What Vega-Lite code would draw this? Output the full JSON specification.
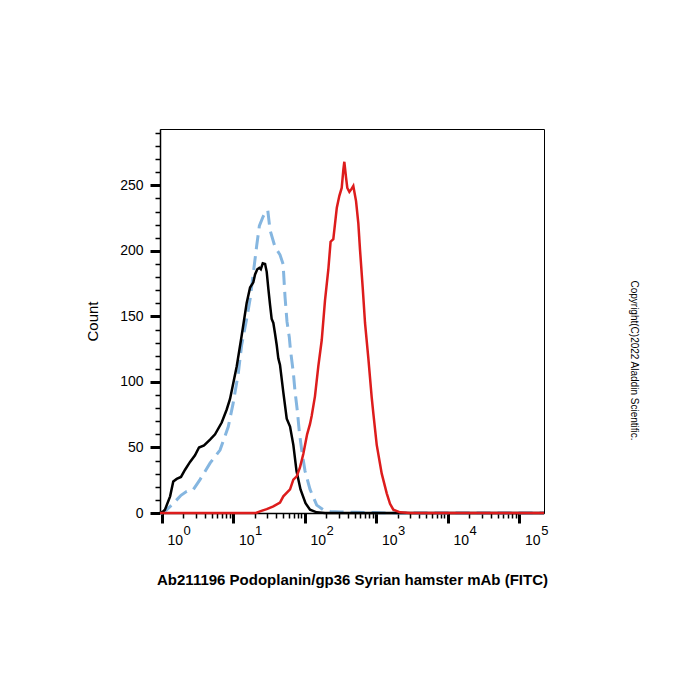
{
  "$schema": "https://vega.github.io/schema/vega-lite/v6.json",
  "width": 384,
  "height": 384,
  "autosize": {"type": "none"},
  "padding": {"left": 160, "top": 129, "right": 156, "bottom": 187},
  "background": "white",
  "config": {
    "view": {"stroke": "black", "strokeWidth": 1},
    "font": "Liberation Sans",
    "axis": {"labelFont": "Liberation Sans", "titleFont": "Liberation Sans", "labelColor": "black", "titleColor": "black", "domainColor": "black", "tickColor": "black", "grid": false}
  },
  "data": {"values": [
    {"s": "black", "x": 0.946, "y": 0}, {"s": "black", "x": 1.04, "y": 1}, {"s": "black", "x": 1.11, "y": 2.5}, {"s": "black", "x": 1.31, "y": 12.7}, {"s": "black", "x": 1.45, "y": 24}, {"s": "black", "x": 1.62, "y": 26}, {"s": "black", "x": 1.86, "y": 27.5}, {"s": "black", "x": 2.12, "y": 33}, {"s": "black", "x": 2.49, "y": 39}, {"s": "black", "x": 2.92, "y": 44}, {"s": "black", "x": 3.32, "y": 50}, {"s": "black", "x": 3.91, "y": 51.5}, {"s": "black", "x": 4.74, "y": 56}, {"s": "black", "x": 5.57, "y": 60}, {"s": "black", "x": 6.9, "y": 69}, {"s": "black", "x": 8.11, "y": 79}, {"s": "black", "x": 9.02, "y": 87}, {"s": "black", "x": 9.93, "y": 98}, {"s": "black", "x": 11.2, "y": 112}, {"s": "black", "x": 13.1, "y": 135}, {"s": "black", "x": 15.4, "y": 160}, {"s": "black", "x": 17.2, "y": 172}, {"s": "black", "x": 19.1, "y": 176}, {"s": "black", "x": 20.2, "y": 182}, {"s": "black", "x": 21.7, "y": 186}, {"s": "black", "x": 23.2, "y": 187}, {"s": "black", "x": 24.3, "y": 186}, {"s": "black", "x": 25.9, "y": 190.5}, {"s": "black", "x": 27.9, "y": 190}, {"s": "black", "x": 29.4, "y": 184}, {"s": "black", "x": 31, "y": 171}, {"s": "black", "x": 32.7, "y": 159}, {"s": "black", "x": 34.5, "y": 148}, {"s": "black", "x": 36.4, "y": 145}, {"s": "black", "x": 38.4, "y": 137}, {"s": "black", "x": 40.6, "y": 128}, {"s": "black", "x": 42.7, "y": 118}, {"s": "black", "x": 45.1, "y": 113}, {"s": "black", "x": 50.2, "y": 92}, {"s": "black", "x": 56, "y": 72}, {"s": "black", "x": 62.3, "y": 66}, {"s": "black", "x": 69.3, "y": 52}, {"s": "black", "x": 76.8, "y": 32}, {"s": "black", "x": 87.3, "y": 18}, {"s": "black", "x": 102.6, "y": 7.5}, {"s": "black", "x": 118.6, "y": 2.5}, {"s": "black", "x": 147, "y": 0.5}, {"s": "black", "x": 192, "y": 0}, {"s": "black", "x": 222000, "y": 0},
    {"s": "blue", "x": 0.946, "y": 0}, {"s": "blue", "x": 1.0, "y": 0}, {"s": "blue", "x": 1.17, "y": 2.5}, {"s": "blue", "x": 1.38, "y": 6}, {"s": "blue", "x": 1.62, "y": 10}, {"s": "blue", "x": 1.86, "y": 13.5}, {"s": "blue", "x": 2.24, "y": 16.5}, {"s": "blue", "x": 2.77, "y": 18}, {"s": "blue", "x": 3.43, "y": 25.5}, {"s": "blue", "x": 4.74, "y": 38}, {"s": "blue", "x": 6.54, "y": 48}, {"s": "blue", "x": 8.54, "y": 66}, {"s": "blue", "x": 10, "y": 84}, {"s": "blue", "x": 11.8, "y": 107}, {"s": "blue", "x": 13.1, "y": 128}, {"s": "blue", "x": 15.4, "y": 148}, {"s": "blue", "x": 17.2, "y": 163}, {"s": "blue", "x": 19.1, "y": 183}, {"s": "blue", "x": 21.3, "y": 204}, {"s": "blue", "x": 23.2, "y": 219}, {"s": "blue", "x": 26.1, "y": 226}, {"s": "blue", "x": 27.9, "y": 229}, {"s": "blue", "x": 30.4, "y": 231}, {"s": "blue", "x": 32.7, "y": 216}, {"s": "blue", "x": 38.4, "y": 203}, {"s": "blue", "x": 45.1, "y": 197}, {"s": "blue", "x": 49.8, "y": 190}, {"s": "blue", "x": 53, "y": 165}, {"s": "blue", "x": 56.5, "y": 146}, {"s": "blue", "x": 60.9, "y": 134}, {"s": "blue", "x": 63, "y": 125}, {"s": "blue", "x": 69.3, "y": 107}, {"s": "blue", "x": 73.1, "y": 93}, {"s": "blue", "x": 78.8, "y": 78}, {"s": "blue", "x": 84, "y": 62}, {"s": "blue", "x": 90.7, "y": 48}, {"s": "blue", "x": 101, "y": 32}, {"s": "blue", "x": 118.6, "y": 18}, {"s": "blue", "x": 147, "y": 6}, {"s": "blue", "x": 182, "y": 2.5}, {"s": "blue", "x": 226, "y": 1.2}, {"s": "blue", "x": 312, "y": 0.8}, {"s": "blue", "x": 505, "y": 0.5}, {"s": "blue", "x": 902, "y": 0.3}, {"s": "blue", "x": 1330, "y": 0}, {"s": "blue", "x": 222000, "y": 0},
    {"s": "red", "x": 0.946, "y": 0}, {"s": "red", "x": 20.8, "y": 0}, {"s": "red", "x": 23.7, "y": 1.2}, {"s": "red", "x": 29.4, "y": 3}, {"s": "red", "x": 36.4, "y": 5}, {"s": "red", "x": 45.1, "y": 8}, {"s": "red", "x": 50.2, "y": 12.7}, {"s": "red", "x": 62.3, "y": 18}, {"s": "red", "x": 69.3, "y": 25.5}, {"s": "red", "x": 77.3, "y": 28}, {"s": "red", "x": 86, "y": 35}, {"s": "red", "x": 95.5, "y": 45}, {"s": "red", "x": 108, "y": 60}, {"s": "red", "x": 118.6, "y": 68}, {"s": "red", "x": 125, "y": 74}, {"s": "red", "x": 139, "y": 89}, {"s": "red", "x": 155, "y": 112}, {"s": "red", "x": 173, "y": 132}, {"s": "red", "x": 192, "y": 162}, {"s": "red", "x": 214, "y": 186}, {"s": "red", "x": 230, "y": 207}, {"s": "red", "x": 251, "y": 209}, {"s": "red", "x": 281, "y": 233}, {"s": "red", "x": 305, "y": 242}, {"s": "red", "x": 329, "y": 248}, {"s": "red", "x": 347, "y": 262}, {"s": "red", "x": 358, "y": 268}, {"s": "red", "x": 378, "y": 256}, {"s": "red", "x": 394, "y": 248}, {"s": "red", "x": 421, "y": 245}, {"s": "red", "x": 454, "y": 247.5}, {"s": "red", "x": 478, "y": 249.5}, {"s": "red", "x": 522, "y": 238}, {"s": "red", "x": 562, "y": 221}, {"s": "red", "x": 593, "y": 201}, {"s": "red", "x": 647, "y": 172}, {"s": "red", "x": 697, "y": 145}, {"s": "red", "x": 776, "y": 118}, {"s": "red", "x": 865, "y": 88}, {"s": "red", "x": 911, "y": 76}, {"s": "red", "x": 1016, "y": 52}, {"s": "red", "x": 1194, "y": 30}, {"s": "red", "x": 1403, "y": 15}, {"s": "red", "x": 1560, "y": 7}, {"s": "red", "x": 1734, "y": 2.5}, {"s": "red", "x": 2152, "y": 0.5}, {"s": "red", "x": 2970, "y": 0}, {"s": "red", "x": 222000, "y": 0}
  ]},
  "layer": [
    {
      "transform": [{"filter": "datum.s === 'blue'"}],
      "mark": {"type": "line", "color": "#85b6e0", "strokeWidth": 3, "strokeDash": [14, 7]},
      "encoding": {
        "x": {"field": "x", "type": "quantitative", "scale": {"type": "log", "domain": [0.946, 222000], "nice": false},
          "axis": {"orient": "bottom", "values": [2,3,4,5,6,7,8,9,20,30,40,50,60,70,80,90,200,300,400,500,600,700,800,900,2000,3000,4000,5000,6000,7000,8000,9000,20000,30000,40000,50000,60000,70000,80000,90000],
            "domain": false, "labels": false, "tickSize": 5, "tickWidth": 1.5, "title": null}},
        "y": {"field": "y", "type": "quantitative", "scale": {"domain": [0, 293], "nice": false, "zero": false},
          "axis": {"orient": "left", "values": [10,20,30,40,60,70,80,90,110,120,130,140,160,170,180,190,210,220,230,240,260,270,280,290],
            "domain": false, "labels": false, "tickSize": 5, "tickWidth": 1.5, "title": null}}
      }
    },
    {
      "transform": [{"filter": "datum.s === 'black'"}],
      "mark": {"type": "line", "color": "black", "strokeWidth": 2.5},
      "encoding": {
        "x": {"field": "x", "type": "quantitative", "scale": {"type": "log", "domain": [0.946, 222000], "nice": false},
          "axis": {"orient": "bottom", "values": [1, 10, 100, 1000, 10000, 100000], "labelExpr": "'10'",
            "domainWidth": 1.5, "tickSize": 10, "tickWidth": 3, "labelFontSize": 14, "labelPadding": 10, "labelOffset": 13,
            "labelOverlap": false, "labelFlush": false, "labelBound": false,
            "title": "Ab211196 Podoplanin/gp36 Syrian hamster mAb (FITC)", "titleFontSize": 15, "titleFontWeight": "bold", "titlePadding": 25}},
        "y": {"field": "y", "type": "quantitative", "scale": {"domain": [0, 293], "nice": false, "zero": false},
          "axis": {"orient": "left", "values": [0, 50, 100, 150, 200, 250],
            "domainWidth": 1.5, "tickSize": 10, "tickWidth": 3, "labelFontSize": 14, "labelPadding": 7,
            "labelOverlap": false, "labelFlush": false, "labelBound": false,
            "title": "Count", "titleFontSize": 15, "titleFontWeight": "normal", "titlePadding": 19}}
      }
    },
    {
      "transform": [{"filter": "datum.s === 'red'"}],
      "mark": {"type": "line", "color": "#dd1c1c", "strokeWidth": 2.5},
      "encoding": {
        "x": {"field": "x", "type": "quantitative", "scale": {"type": "log", "domain": [0.946, 222000], "nice": false},
          "axis": {"orient": "bottom", "values": [1, 10, 100, 1000, 10000, 100000], "labelExpr": "'' + round(log(datum.value) / LN10)",
            "domain": false, "tickSize": 10, "tickOpacity": 0, "labelFontSize": 13, "labelPadding": 1, "labelOffset": 25,
            "labelOverlap": false, "labelFlush": false, "labelBound": false, "title": null}},
        "y": {"field": "y", "type": "quantitative", "scale": {"domain": [0, 293], "nice": false, "zero": false},
          "axis": {"orient": "right", "domain": false, "ticks": false, "labels": false,
            "title": "Copyright(C)2022 Aladdin Scientific.", "titleFontSize": 10, "titleFontWeight": "normal", "titleAngle": 90, "titlePadding": 84, "titleY": 231}}
      }
    }
  ],
  "resolve": {"axis": {"x": "independent", "y": "independent"}}
}
